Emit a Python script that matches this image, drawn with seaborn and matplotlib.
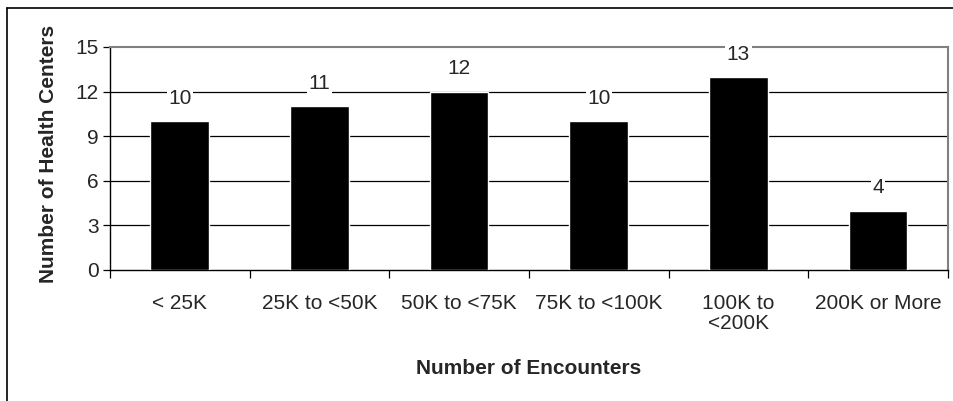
import numpy as np
import pandas as pd
import seaborn as sns
import matplotlib.pyplot as plt
from matplotlib.lines import Line2D

categories = ['< 25K', '25K to <50K', '50K to <75K', '75K to <100K', '100K to\n<200K', '200K or More']
counts = [10, 11, 12, 10, 13, 4]
yticks = [0, 3, 6, 9, 12, 15]

df = pd.DataFrame({'Encounters': categories, 'Centers': counts})

sns.set_style('white')
plt.rcParams['font.family'] = ['Liberation Sans', 'DejaVu Sans']

fig = plt.figure(figsize=(9.54, 4.01), dpi=100)
ax = fig.add_axes([0.1153, 0.3267, 0.8784, 0.5561])

sns.barplot(x='Encounters', y='Centers', data=df, color='black', width=0.42,
            saturation=1, ax=ax, zorder=3)

# gridlines
for y in yticks[1:-1]:
    ax.axhline(y, color='black', linewidth=0.9, zorder=1)

ax.set_ylim(0, 15)
ax.set_xlim(-0.5, len(categories) - 0.5)
ax.set_yticks(yticks)
ax.tick_params(axis='y', labelsize=15, length=5, width=0.9, color='black', direction='out', pad=3, left=True)
ax.set_xticks(np.arange(len(categories)))
ax.set_xticklabels(categories, fontsize=15, linespacing=1.1)
ax.tick_params(axis='x', length=0, pad=17)
# category boundary ticks
ax.set_xticks(np.arange(len(categories) + 1) - 0.5, minor=True)
ax.tick_params(axis='x', which='minor', length=6, width=0.9, color='black', direction='out', bottom=True)

for s in ['left', 'bottom']:
    ax.spines[s].set_color('black')
    ax.spines[s].set_linewidth(1.0)
for s in ['top', 'right']:
    ax.spines[s].set_color('#808080')
    ax.spines[s].set_linewidth(1.5)

for i, v in enumerate(counts):
    ax.annotate(str(v), (i, v), xytext=(0, 9.5), textcoords='offset points',
                ha='center', va='bottom', fontsize=15, zorder=4,
                bbox=dict(facecolor='white', edgecolor='none', pad=1))

ax.set_xlabel('Number of Encounters', fontsize=15, fontweight='bold', labelpad=19)
ax.set_ylabel('Number of Health Centers', fontsize=15, fontweight='bold', labelpad=13, y=0.52)

# outer frame (left and top edges)
fig.add_artist(Line2D([7 / 954, 7 / 954], [0, 1 - 8 / 401], transform=fig.transFigure, color='black', linewidth=1.2))
fig.add_artist(Line2D([7 / 954, 1], [1 - 8 / 401, 1 - 8 / 401], transform=fig.transFigure, color='black', linewidth=1.2))

fig.savefig('out.png', dpi=100)
